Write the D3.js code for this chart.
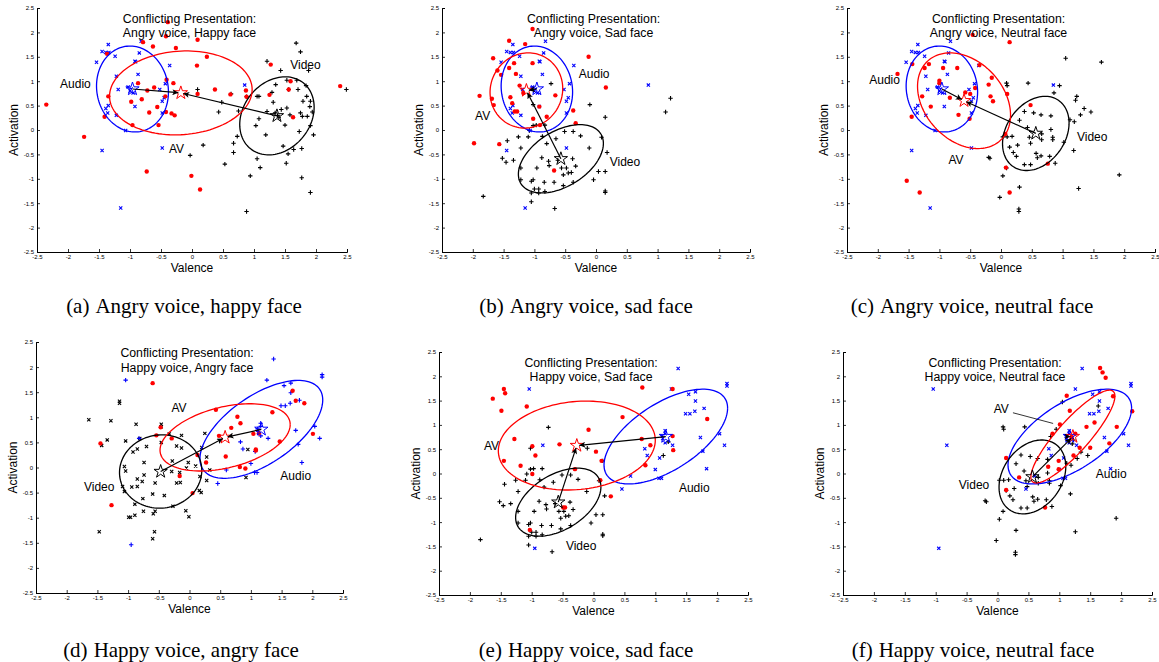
<!DOCTYPE html>
<html>
<head>
<meta charset="utf-8">
<script src="https://cdn.jsdelivr.net/npm/d3@7"></script>
<style>
body { margin: 0; background: #fff; }
svg { display: block; font-family: "Liberation Sans", Arial, sans-serif; }
</style>
</head>
<body>
<svg id="chart" width="1159" height="662"></svg>
<script>
// ---- data (valence, activation) ----
var audioAngry = [[-1.35,1.75],[-1.45,1.61],[-1.39,1.59],[-1.34,1.59],[-1.54,1.39],[-1.24,1.51],[-0.82,1.82],[-0.85,1.58],[-0.92,1.41],[-0.36,1.32],[-1.22,1.10],[-0.87,1.14],[-1.19,0.83],[-1.03,0.88],[-0.98,0.84],[-0.95,0.76],[-0.52,0.83],[-0.43,0.95],[-0.45,0.66],[-0.48,0.59],[-1.35,0.50],[-1.39,0.44],[-1.36,0.35],[-0.92,0.48],[-1.22,0.30],[-0.48,0.35],[-1.07,-0.01],[-1.45,-0.42],[-0.48,-0.37],[-1.15,-1.60],[0.85,0.92],[-0.91,1.40],[-1.00,0.80]];
var audioHappy = [[1.37,2.16],[2.16,1.85],[2.16,1.80],[-1.04,1.74],[1.26,1.74],[1.54,1.63],[1.65,1.68],[1.65,1.49],[1.49,1.23],[1.56,1.23],[1.64,1.28],[1.79,1.34],[1.73,0.74],[2.04,0.82],[2.12,0.58],[1.77,0.46],[1.83,0.10],[1.16,0.88],[1.16,0.82],[1.16,0.63],[1.28,0.58],[0.83,0.51],[0.87,0.37],[1.07,0.32],[1.00,0.08],[1.06,-0.10],[1.10,-0.10],[0.60,-0.05],[0.46,-0.32],[-0.82,0.58],[-0.95,-1.54],[1.11,0.77],[1.12,0.72]];
var videoHappyFace = [[1.68,1.78],[1.75,1.60],[1.21,1.41],[1.43,1.22],[1.88,1.22],[1.53,1.02],[1.69,1.02],[1.35,0.93],[1.84,0.91],[1.56,0.83],[1.29,0.77],[1.71,0.83],[1.05,0.69],[1.08,0.69],[1.85,0.69],[1.79,0.59],[1.91,0.59],[1.31,0.57],[1.90,0.48],[1.53,0.45],[1.44,0.42],[1.21,0.38],[1.34,0.35],[1.58,0.31],[1.75,0.35],[1.78,0.28],[1.94,0.37],[1.08,0.23],[1.86,0.28],[1.03,0.09],[1.50,0.10],[1.91,0.09],[1.73,-0.03],[1.96,-0.10],[1.19,-0.10],[0.73,-0.13],[0.67,-0.27],[1.47,-0.33],[0.18,-0.31],[1.64,-0.40],[1.77,-0.38],[1.55,-0.49],[0.67,-0.46],[-0.03,-0.52],[1.05,-0.59],[1.52,-0.68],[0.53,-0.70],[1.10,-0.77],[0.94,-0.94],[1.77,-0.98],[1.91,-1.28],[0.88,-1.67],[2.49,0.83],[0.43,0.37],[0.48,0.57],[0.09,0.83],[0.63,0.74],[0.88,0.68],[0.75,0.39],[1.38,0.30],[1.40,0.26]];
var videoSadFace = [[-0.73,0.95],[-0.10,0.52],[1.13,0.37],[1.21,0.65],[0.15,0.26],[-1.02,0.09],[-1.08,-0.01],[-1.26,-0.14],[-1.10,-0.14],[-1.44,-0.22],[-1.22,-0.37],[-1.52,-0.58],[-1.46,-0.66],[-1.34,-0.62],[-0.87,-0.13],[-0.80,-0.28],[-0.65,-0.18],[-0.51,-0.03],[-0.37,-0.03],[-0.25,-0.12],[-0.11,-0.37],[0.09,-0.15],[0.18,-0.46],[-0.88,-0.57],[-0.76,-0.73],[-0.62,-0.62],[-0.38,-0.59],[-1.22,-0.78],[-0.96,-0.78],[-0.77,-0.64],[-0.56,-0.78],[-0.48,-0.78],[-0.33,-0.74],[-0.45,-0.88],[-0.53,-0.92],[-0.40,-0.87],[-1.02,-1.02],[-1.05,-1.05],[-0.84,-1.07],[-0.68,-1.07],[-1.22,-1.02],[-0.53,-1.14],[-0.37,-1.07],[0.04,-0.85],[-0.04,-1.02],[0.15,-0.85],[-0.93,-1.21],[-0.83,-1.26],[-1.05,-1.29],[-0.93,-1.29],[0.15,-1.28],[0.15,-1.25],[-1.05,-1.47],[-0.67,-1.61],[-1.83,-1.36],[-1.00,-1.21],[-1.02,0.52],[-0.97,0.10],[-0.83,0.10]];
var videoNeutralFace = [[1.05,1.47],[1.63,1.39],[0.09,0.96],[0.10,0.91],[0.44,0.96],[0.95,0.91],[0.86,0.76],[1.23,0.69],[1.21,0.61],[1.35,0.44],[1.46,0.37],[1.29,0.31],[1.12,0.21],[1.19,0.17],[0.38,0.38],[0.53,0.35],[0.65,0.31],[0.81,0.29],[0.30,0.20],[0.43,0.05],[0.46,-0.15],[0.81,0.01],[0.84,-0.15],[0.84,-0.20],[0.66,-0.20],[1.02,-0.25],[0.66,-0.08],[0.48,-0.27],[0.03,-0.14],[0.10,-0.14],[0.18,-0.13],[0.27,-0.31],[0.14,-0.35],[0.20,-0.46],[0.25,-0.54],[0.57,-0.48],[0.65,-0.53],[0.79,-0.54],[0.59,-0.57],[0.38,-0.71],[0.48,-0.71],[0.88,-0.68],[1.18,-0.42],[-0.20,-0.56],[-0.18,-0.58],[0.09,-0.78],[0.03,-0.94],[0.30,-1.17],[-0.02,-1.38],[0.29,-1.62],[0.29,-1.67],[1.26,-1.20],[1.92,-0.92]];
var videoAngryFace = [[-1.64,0.95],[-1.28,0.93],[-1.14,1.32],[-1.14,1.28],[-1.34,0.55],[-1.43,0.44],[-0.87,0.86],[-0.46,0.86],[-0.46,0.81],[-1.04,0.53],[-0.81,0.58],[-0.33,0.67],[-0.13,0.64],[-0.70,0.42],[-0.85,0.37],[-0.92,0.31],[-0.46,0.50],[-0.21,0.43],[-0.13,0.39],[-0.74,0.10],[-0.28,0.13],[-0.02,0.10],[-1.06,0.02],[-1.04,-0.07],[-0.05,-0.01],[-0.29,-0.08],[-0.16,-0.10],[-0.74,-0.15],[-0.85,-0.23],[-0.77,-0.28],[-0.56,-0.31],[-0.21,-0.31],[-0.15,-0.30],[-1.09,-0.38],[-0.94,-0.39],[-0.85,-0.38],[-1.06,-0.48],[-0.60,-0.53],[-0.41,-0.56],[-0.76,-0.62],[-0.89,-0.73],[-0.27,-0.77],[-0.75,-0.87],[-0.56,-0.87],[-0.89,-0.95],[-0.59,-0.92],[-0.06,-0.86],[-0.01,-0.98],[-0.99,-0.99],[-0.96,-0.99],[-1.47,-1.28],[-0.57,-1.28],[-0.60,-1.42],[0.10,0.03],[0.17,-0.18],[0.28,0.21],[0.28,-0.26],[0.20,0.40],[0.25,0.68],[0.16,-0.46],[0.19,-0.50],[0.33,-0.05],[0.95,0.36],[0.92,-0.20]];
var avA = [[-0.39,2.21],[-0.42,1.92],[-0.79,1.80],[-0.63,1.71],[-0.26,1.68],[0.09,1.85],[-1.37,1.56],[0.24,1.50],[0.08,1.32],[1.27,1.34],[-0.41,1.03],[-0.87,0.96],[1.59,1.00],[1.56,0.83],[-0.30,0.96],[-0.61,0.87],[-0.72,0.81],[0.37,0.83],[0.62,0.73],[0.87,0.81],[1.25,0.72],[0.09,0.74],[0.88,0.68],[-1.35,0.69],[-0.43,0.69],[-0.81,0.63],[-0.98,0.58],[-0.56,0.47],[-0.42,0.37],[-0.69,0.36],[-0.33,0.34],[-0.28,0.30],[-1.41,0.27],[1.63,0.26],[-0.96,0.10],[-0.54,0.10],[-2.35,0.52],[-1.74,-0.14],[-0.73,-0.85],[-0.01,-0.94],[0.13,-1.22],[2.39,0.90]];
var avB = [[-1.03,2.07],[-1.41,1.83],[-1.15,1.76],[-1.67,1.47],[-1.33,1.37],[-1.03,1.37],[-0.12,1.50],[-1.41,1.27],[-1.60,1.22],[-1.30,1.15],[-1.54,1.13],[-1.24,0.91],[-1.18,0.76],[0.16,0.87],[-0.66,0.71],[-1.89,0.70],[-1.69,0.64],[-1.66,0.51],[-1.39,0.67],[-1.36,0.55],[-0.92,0.48],[-0.37,0.40],[-1.32,0.38],[-1.28,0.38],[-0.80,0.27],[-1.02,0.23],[-0.33,0.14],[-0.91,0.10],[-1.98,-0.27],[-1.57,-0.29],[-0.68,-0.83]];
var avC = [[0.14,1.80],[-0.46,1.95],[-1.17,1.35],[-1.24,1.27],[-1.44,1.35],[-1.68,1.15],[-0.94,1.27],[-0.71,1.27],[-0.35,1.33],[-0.15,1.07],[-1.00,1.01],[-1.00,0.96],[-0.20,0.93],[0.10,0.74],[-0.42,0.86],[-0.58,0.77],[-0.50,0.74],[-0.17,0.69],[-1.28,0.69],[-0.83,0.66],[-0.13,0.59],[-1.14,0.48],[-0.69,0.31],[-1.45,0.27],[-0.51,0.23],[0.48,0.51],[0.07,-0.08],[0.08,-0.77],[0.14,-1.28],[0.76,-0.69],[-1.53,-1.04],[-1.32,-1.28]];
var avD = [[-0.60,1.68],[1.68,1.53],[1.73,1.33],[1.87,1.28],[1.35,1.10],[0.43,1.15],[0.78,1.01],[0.83,0.88],[0.68,0.79],[-0.47,0.80],[-1.45,0.48],[-0.54,0.64],[-0.29,0.58],[0.48,0.63],[1.04,0.67],[1.47,0.52],[2.01,0.67],[1.08,0.36],[1.08,0.34],[0.13,0.25],[0.59,0.22],[0.27,0.10],[0.82,0.01],[0.91,-0.02],[-0.16,-0.17],[0.05,-0.51],[-1.27,-0.75],[1.13,0.68]];
var avE = [[-1.63,1.54],[-1.45,1.74],[-1.43,1.65],[-1.49,1.29],[-1.08,1.38],[0.79,1.77],[1.28,1.74],[1.84,1.12],[-0.08,0.90],[0.47,1.16],[-1.28,0.71],[-0.99,0.56],[-0.55,0.60],[0.78,0.71],[0.92,0.58],[1.28,0.77],[1.29,0.48],[0.04,0.45],[-0.94,0.37],[-1.45,0.26],[-1.18,0.16],[0.84,0.17],[0.13,0.26],[-0.99,-0.01],[-0.30,0.09],[0.11,-0.14],[0.28,-0.47],[-0.49,-0.70],[-0.46,-0.70],[-1.03,-1.16]];
var avF = [[1.66,2.17],[1.70,2.08],[1.75,1.97],[1.12,1.60],[1.87,1.59],[1.17,1.29],[1.57,1.05],[2.18,1.28],[1.01,1.01],[1.44,0.96],[1.93,0.96],[0.89,0.82],[1.33,0.53],[1.50,0.53],[1.81,0.62],[1.23,0.37],[0.82,0.14],[0.99,0.26],[0.99,0.09],[0.14,0.32],[0.35,-0.08],[0.14,-0.34],[0.77,-0.70],[1.20,0.75],[1.26,0.82]];

// fitted means and spreads: [mean x, mean y, spread x, spread y, correlation]
var fitAudioAngry = [-0.96, 0.84, 0.58, 0.88, -0.07];
var fitAudioHappy = [1.17, 0.76, 1.00, 0.975, 0.60];
var fitVideoHappy = [1.37, 0.29, 0.60, 0.80, 0.22];
var fitVideoSad = [-0.57, -0.59, 0.69, 0.70, 0.45];
var fitVideoNeutral = [0.565, -0.07, 0.54, 0.76, 0.28];
var fitVideoAngry = [-0.47, -0.08, 0.67, 0.73, 0.03];
var fitAvA = [-0.18, 0.76, 1.15, 0.86, 0.08];
var fitAvB = [-1.13, 0.81, 0.59, 0.77, 0.05];
var fitAvC = [-0.60, 0.60, 0.755, 0.98, -0.30];
var fitAvD = [0.58, 0.60, 1.06, 0.67, 0.38];
var fitAvE = [-0.27, 0.575, 1.27, 0.915, 0.12];
var fitAvF = [1.22, 0.76, 0.68, 0.955, 0.87];

var tickValues = [-2.5, -2, -1.5, -1, -0.5, 0, 0.5, 1, 1.5, 2, 2.5];

var panels = [
  {box: [37, 8, 347, 252], cap: [184, 313], letter: '(a)', caption: 'Angry voice, happy face', title: 'Angry voice, Happy face',
   audio: audioAngry, video: videoHappyFace, av: avA, fa: fitAudioAngry, fv: fitVideoHappy, fav: fitAvA, audioMark: 'x', videoMark: '+',
   lab: {Audio: [-1.88, 0.95], AV: [-0.25, -0.38], Video: [1.83, 1.34]}},
  {box: [442, 8, 750, 252], cap: [586, 313], letter: '(b)', caption: 'Angry voice, sad face', title: 'Angry voice, Sad face',
   audio: audioAngry, video: videoSadFace, av: avB, fa: fitAudioAngry, fv: fitVideoSad, fav: fitAvB, audioMark: 'x', videoMark: '+',
   lab: {Audio: [-0.03, 1.15], AV: [-1.84, 0.29], Video: [0.47, -0.66]}},
  {box: [847, 8, 1155, 252], cap: [972, 313], letter: '(c)', caption: 'Angry voice, neutral face', title: 'Angry voice, Neutral face',
   audio: audioAngry, video: videoNeutralFace, av: avC, fa: fitAudioAngry, fv: fitVideoNeutral, fav: fitAvC, audioMark: 'x', videoMark: '+',
   lab: {Audio: [-1.89, 1.03], AV: [-0.73, -0.62], Video: [1.48, -0.15]}},
  {box: [36, 342, 343, 593], cap: [181, 657], letter: '(d)', caption: 'Happy voice, angry face', title: 'Happy voice, Angry face',
   audio: audioHappy, video: videoAngryFace, av: avD, fa: fitAudioHappy, fv: fitVideoAngry, fav: fitAvD, audioMark: '+', videoMark: 'x',
   lab: {Audio: [1.73, -0.16], AV: [-0.17, 1.19], Video: [-1.47, -0.38]}},
  {box: [439, 352, 748, 595], cap: [586, 657], letter: '(e)', caption: 'Happy voice, sad face', title: 'Happy voice, Sad face',
   audio: audioHappy, video: videoSadFace, av: avE, fa: fitAudioHappy, fv: fitVideoSad, fav: fitAvE, audioMark: 'x', videoMark: '+',
   lab: {Audio: [1.63, -0.29], AV: [-1.65, 0.56], Video: [-0.20, -1.49]}},
  {box: [843, 352, 1152, 595], cap: [973, 657], letter: '(f)', caption: 'Happy voice, neutral face', title: 'Happy voice, Neutral face',
   audio: audioHappy, video: videoNeutralFace, av: avF, fa: fitAudioHappy, fv: fitVideoNeutral, fav: fitAvF, audioMark: 'x', videoMark: '+',
   lab: {Audio: [1.84, -0.01], AV: [0.06, 1.32], Video: [-0.38, -0.24]}, leader: [[0.25, 1.25], [0.90, 1.03]]}
];

var svg = d3.select('#chart');

svg.append('defs').append('marker')
  .attr('id', 'arrowhead')
  .attr('viewBox', '0 0 10 10')
  .attr('refX', 10).attr('refY', 5)
  .attr('markerWidth', 8).attr('markerHeight', 6)
  .attr('markerUnits', 'userSpaceOnUse')
  .attr('orient', 'auto')
  .append('path').attr('d', 'M0,0L10,5L0,10L2.5,5Z').attr('fill', '#000');

function drawMarks(g, pts, shape, color, x, y) {
  if (shape === 'dot') {
    g.selectAll(null).data(pts).join('circle')
      .attr('cx', function(d) { return x(d[0]); })
      .attr('cy', function(d) { return y(d[1]); })
      .attr('r', 2.2).attr('fill', color);
    return;
  }
  var s = shape === '+' ? 2.2 : 1.6;
  g.selectAll(null).data(pts).join('path')
    .attr('d', function(d) {
      var px = x(d[0]), py = y(d[1]);
      if (shape === '+') return 'M' + (px - s) + ',' + py + 'H' + (px + s) + 'M' + px + ',' + (py - s) + 'V' + (py + s);
      return 'M' + (px - s) + ',' + (py - s) + 'L' + (px + s) + ',' + (py + s) + 'M' + (px - s) + ',' + (py + s) + 'L' + (px + s) + ',' + (py - s);
    })
    .attr('stroke', color).attr('stroke-width', 1.1).attr('fill', 'none');
}

function drawEllipse(g, f, color, x, y) {
  var ts = d3.range(0, 2 * Math.PI + 0.001, Math.PI / 60);
  var line = d3.line()
    .x(function(t) { return x(f[0] + f[2] * Math.cos(t)); })
    .y(function(t) { return y(f[1] + f[3] * (f[4] * Math.cos(t) + Math.sqrt(1 - f[4] * f[4]) * Math.sin(t))); });
  g.append('path').attr('d', line(ts)).attr('fill', 'none').attr('stroke', color).attr('stroke-width', 1.3);
}

function drawArrow(g, from, to, x, y) {
  var x0 = x(from[0]), y0 = y(from[1]), x1 = x(to[0]), y1 = y(to[1]);
  var len = Math.hypot(x1 - x0, y1 - y0), k = (len - 2.5) / len;
  g.append('line')
    .attr('x1', x0).attr('y1', y0)
    .attr('x2', x0 + (x1 - x0) * k).attr('y2', y0 + (y1 - y0) * k)
    .attr('stroke', '#000').attr('stroke-width', 1.2)
    .attr('marker-end', 'url(#arrowhead)');
}

var star = d3.symbol().type(d3.symbolStar).size(55);

panels.forEach(function(p) {
  var x = d3.scaleLinear().domain([-2.5, 2.5]).range([p.box[0], p.box[2]]);
  var y = d3.scaleLinear().domain([-2.5, 2.5]).range([p.box[3], p.box[1]]);
  var g = svg.append('g');

  var xAxis = d3.axisBottom(x).tickValues(tickValues).tickSize(-3).tickPadding(3).tickFormat(function(d) { return String(d); });
  var yAxis = d3.axisLeft(y).tickValues(tickValues).tickSize(-3).tickPadding(3).tickFormat(function(d) { return String(d); });
  var gx = g.append('g').attr('transform', 'translate(0,' + p.box[3] + ')').call(xAxis);
  var gy = g.append('g').attr('transform', 'translate(' + p.box[0] + ',0)').call(yAxis);
  [gx, gy].forEach(function(a) {
    a.selectAll('text').attr('font-size', 6).attr('fill', '#000').attr('font-family', '"Liberation Sans", Arial, sans-serif');
    a.selectAll('line').attr('stroke', '#000').attr('stroke-width', 0.8);
    a.select('.domain').attr('stroke', '#000').attr('stroke-width', 1);
  });

  drawMarks(g, p.video, p.videoMark, '#000', x, y);
  drawMarks(g, p.audio, p.audioMark, '#0000ff', x, y);
  drawMarks(g, p.av, 'dot', '#ff0000', x, y);

  drawEllipse(g, p.fa, '#0000ff', x, y);
  drawEllipse(g, p.fv, '#000', x, y);
  drawEllipse(g, p.fav, '#ff0000', x, y);

  [[p.fa, '#0000ff'], [p.fv, '#000'], [p.fav, '#ff0000']].forEach(function(s) {
    g.append('path').attr('d', star)
      .attr('transform', 'translate(' + x(s[0][0]) + ',' + y(s[0][1]) + ')')
      .attr('fill', 'none').attr('stroke', s[1]).attr('stroke-width', 1);
  });

  drawArrow(g, p.fa, p.fav, x, y);
  drawArrow(g, p.fv, p.fav, x, y);

  var tx = x(-0.04);
  g.append('text').attr('x', tx).attr('y', y(2.28)).attr('text-anchor', 'middle').attr('dominant-baseline', 'central')
    .attr('font-size', 12.3).text('Conflicting Presentation:');
  g.append('text').attr('x', tx).attr('y', y(1.98)).attr('text-anchor', 'middle').attr('dominant-baseline', 'central')
    .attr('font-size', 12.3).text(p.title);

  Object.keys(p.lab).forEach(function(k) {
    g.append('text').attr('x', x(p.lab[k][0])).attr('y', y(p.lab[k][1]))
      .attr('text-anchor', 'middle').attr('dominant-baseline', 'central')
      .attr('font-size', 12).text(k);
  });
  if (p.leader) {
    g.append('line')
      .attr('x1', x(p.leader[0][0])).attr('y1', y(p.leader[0][1]))
      .attr('x2', x(p.leader[1][0])).attr('y2', y(p.leader[1][1]))
      .attr('stroke', '#000').attr('stroke-width', 0.8);
  }

  g.append('text').attr('x', (p.box[0] + p.box[2]) / 2).attr('y', p.box[3] + 16)
    .attr('text-anchor', 'middle').attr('dominant-baseline', 'central')
    .attr('font-size', 12).text('Valence');
  var ax = p.box[0] - 23, ay = (p.box[1] + p.box[3]) / 2;
  g.append('text').attr('transform', 'translate(' + ax + ',' + ay + ') rotate(-90)')
    .attr('text-anchor', 'middle').attr('dominant-baseline', 'central')
    .attr('font-size', 12).text('Activation');

  var cap = g.append('text').attr('x', p.cap[0]).attr('y', p.cap[1])
    .attr('text-anchor', 'middle')
    .attr('font-family', '"Liberation Serif", "Times New Roman", serif').attr('font-size', 21);
  cap.append('tspan').text(p.letter);
  cap.append('tspan').attr('dx', 6).text(p.caption);
});
</script>
</body>
</html>
